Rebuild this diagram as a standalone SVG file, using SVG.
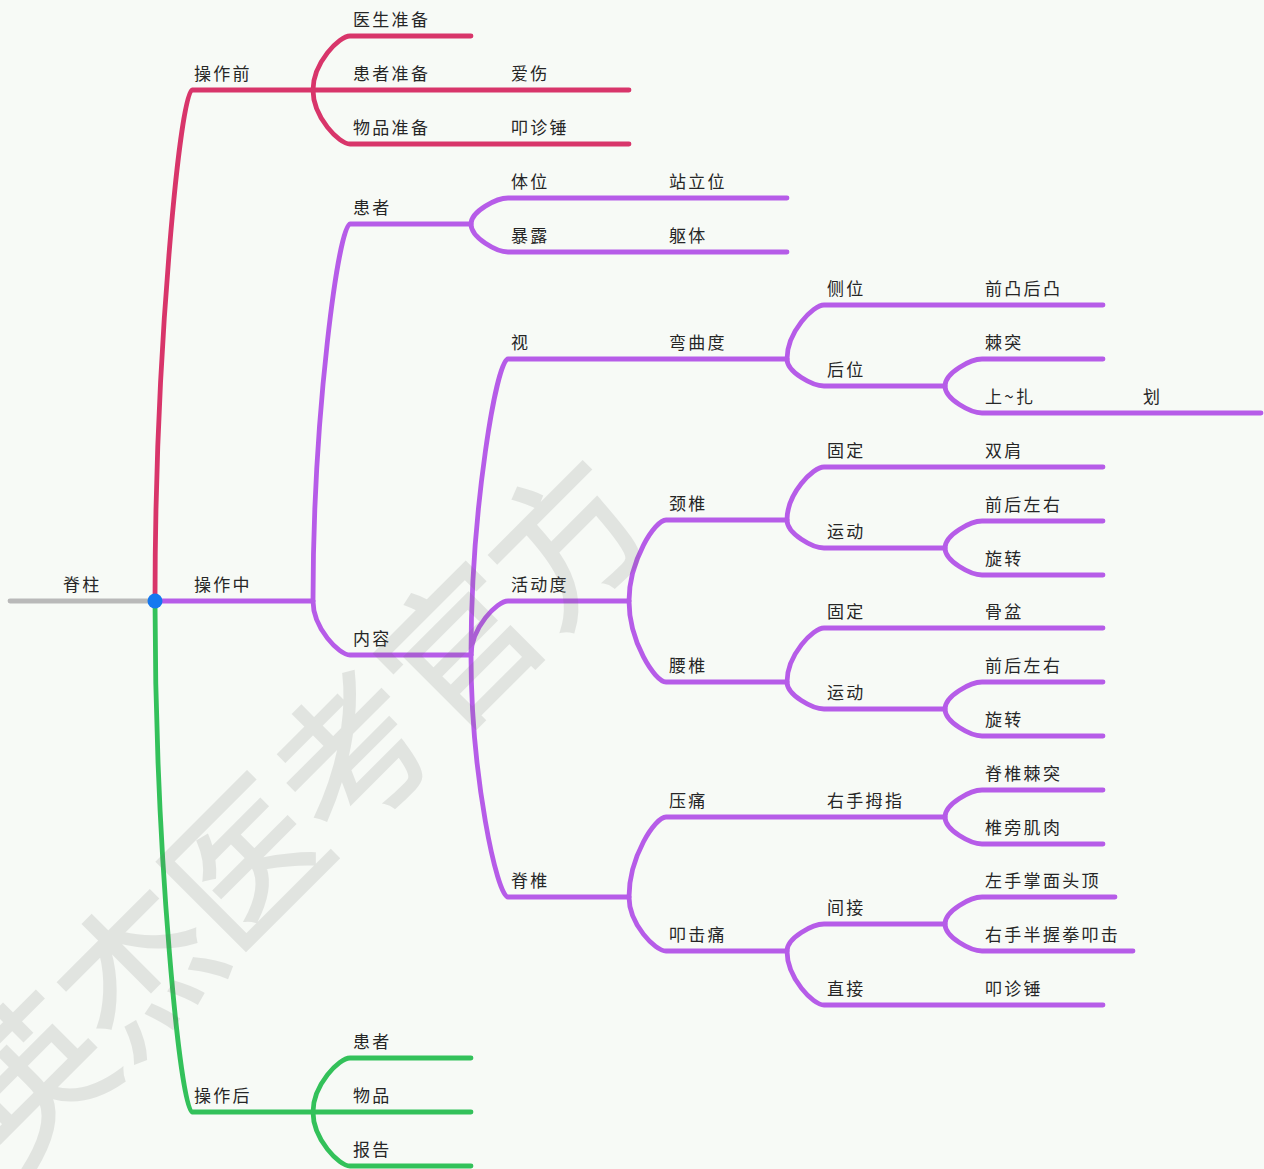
<svg xmlns="http://www.w3.org/2000/svg" width="1264" height="1169" viewBox="0 0 1264 1169">
<style>
.e{fill:none;stroke-width:4.8;stroke-linecap:round;stroke-linejoin:round}
.r{stroke:#d8356a}
.p{stroke:#b65ce8}
.g{stroke:#33c15a}
.k{stroke:#b9b9b9}
text{font-family:"Noto Sans CJK SC","Noto Sans",sans-serif;font-size:17px;letter-spacing:2.3px;fill:#262626}
.wm{font-size:152px;letter-spacing:0;fill:#6b6b6b;stroke:#6b6b6b;stroke-width:2.5}
</style>
<rect x="0" y="0" width="1264" height="1169" fill="#f7faf6"/>
<g id="connectors">
<path class="e k" d="M10 601 L155 601"/>
<path class="e r" d="M155 601 C155 345.5 181 90 192 90 L313 90"/>
<path class="e p" d="M155 601 L313 601"/>
<path class="e g" d="M155 601 C155 856.5 181 1112 192 1112 L313 1112"/>
<path class="e r" d="M313 90 C313 63 339 36 350 36 L471 36"/>
<path class="e r" d="M313 90 L629 90"/>
<path class="e r" d="M313 90 C313 117 339 144 350 144 L629 144"/>
<path class="e p" d="M313 601 C313 412.5 339 224 350 224 L471 224"/>
<path class="e p" d="M313 601 C313 628 339 655 350 655 L471 655"/>
<path class="e g" d="M313 1112 C313 1085 339 1058 350 1058 L471 1058"/>
<path class="e g" d="M313 1112 L471 1112"/>
<path class="e g" d="M313 1112 C313 1139 339 1166 350 1166 L471 1166"/>
<path class="e p" d="M471 224 C471 211 497 198 508 198 L787 198"/>
<path class="e p" d="M471 224 C471 238 497 252 508 252 L787 252"/>
<path class="e p" d="M471 655 C471 507 497 359 508 359 L787 359"/>
<path class="e p" d="M471 655 C471 628 497 601 508 601 L629 601"/>
<path class="e p" d="M471 655 C471 776 497 897 508 897 L629 897"/>
<path class="e p" d="M629 601 C629 560.5 655 520 666 520 L787 520"/>
<path class="e p" d="M629 601 C629 641.5 655 682 666 682 L787 682"/>
<path class="e p" d="M629 897 C629 857 655 817 666 817 L945 817"/>
<path class="e p" d="M629 897 C629 924 655 951 666 951 L787 951"/>
<path class="e p" d="M787 359 C787 332 813 305 824 305 L1103 305"/>
<path class="e p" d="M787 359 C787 372.5 813 386 824 386 L945 386"/>
<path class="e p" d="M787 520 C787 493.5 813 467 824 467 L1103 467"/>
<path class="e p" d="M787 520 C787 534 813 548 824 548 L945 548"/>
<path class="e p" d="M787 682 C787 655 813 628 824 628 L1103 628"/>
<path class="e p" d="M787 682 C787 695.5 813 709 824 709 L945 709"/>
<path class="e p" d="M787 951 C787 937.5 813 924 824 924 L945 924"/>
<path class="e p" d="M787 951 C787 978 813 1005 824 1005 L1103 1005"/>
<path class="e p" d="M945 386 C945 372.5 971 359 982 359 L1103 359"/>
<path class="e p" d="M945 386 C945 399.5 971 413 982 413 L1261 413"/>
<path class="e p" d="M945 548 C945 534.5 971 521 982 521 L1103 521"/>
<path class="e p" d="M945 548 C945 561.5 971 575 982 575 L1103 575"/>
<path class="e p" d="M945 709 C945 695.5 971 682 982 682 L1103 682"/>
<path class="e p" d="M945 709 C945 722.5 971 736 982 736 L1103 736"/>
<path class="e p" d="M945 817 C945 803.5 971 790 982 790 L1103 790"/>
<path class="e p" d="M945 817 C945 830.5 971 844 982 844 L1103 844"/>
<path class="e p" d="M945 924 C945 910.5 971 897 982 897 L1115 897"/>
<path class="e p" d="M945 924 C945 937.5 971 951 982 951 L1133 951"/>
<circle cx="155" cy="601" r="7.5" fill="#1478f0"/>
</g>
<g id="n-root"><text x="63" y="591">脊柱</text></g>
<g id="n-before"><text x="194" y="80">操作前</text></g>
<g id="n-during"><text x="194" y="591">操作中</text></g>
<g id="n-after"><text x="194" y="1102">操作后</text></g>
<g id="n-doctor"><text x="353" y="26">医生准备</text></g>
<g id="n-patientprep"><text x="353" y="80">患者准备</text></g>
<g id="n-itemprep"><text x="353" y="134">物品准备</text></g>
<g id="n-aishang"><text x="511" y="80">爱伤</text></g>
<g id="n-hammer1"><text x="511" y="134">叩诊锤</text></g>
<g id="n-patient"><text x="353" y="214">患者</text></g>
<g id="n-content"><text x="353" y="645">内容</text></g>
<g id="n-tiwei"><text x="511" y="188">体位</text></g>
<g id="n-zhanli"><text x="669" y="188">站立位</text></g>
<g id="n-baolu"><text x="511" y="242">暴露</text></g>
<g id="n-quti"><text x="669" y="242">躯体</text></g>
<g id="n-shi"><text x="511" y="349">视</text></g>
<g id="n-wanqu"><text x="669" y="349">弯曲度</text></g>
<g id="n-cewei"><text x="827" y="295">侧位</text></g>
<g id="n-qiantu"><text x="985" y="295">前凸后凸</text></g>
<g id="n-houwei"><text x="827" y="376">后位</text></g>
<g id="n-jitu"><text x="985" y="349">棘突</text></g>
<g id="n-shangzha"><text x="985" y="403">上~扎</text></g>
<g id="n-hua"><text x="1143" y="403">划</text></g>
<g id="n-huodong"><text x="511" y="591">活动度</text></g>
<g id="n-jingzhui"><text x="669" y="510">颈椎</text></g>
<g id="n-guding1"><text x="827" y="457">固定</text></g>
<g id="n-shuangjian"><text x="985" y="457">双肩</text></g>
<g id="n-yundong1"><text x="827" y="538">运动</text></g>
<g id="n-qhzy1"><text x="985" y="511">前后左右</text></g>
<g id="n-xuanzhuan1"><text x="985" y="565">旋转</text></g>
<g id="n-yaozhui"><text x="669" y="672">腰椎</text></g>
<g id="n-guding2"><text x="827" y="618">固定</text></g>
<g id="n-gupen"><text x="985" y="618">骨盆</text></g>
<g id="n-yundong2"><text x="827" y="699">运动</text></g>
<g id="n-qhzy2"><text x="985" y="672">前后左右</text></g>
<g id="n-xuanzhuan2"><text x="985" y="726">旋转</text></g>
<g id="n-jizhui"><text x="511" y="887">脊椎</text></g>
<g id="n-yatong"><text x="669" y="807">压痛</text></g>
<g id="n-youshou"><text x="827" y="807">右手拇指</text></g>
<g id="n-jizhuijitu"><text x="985" y="780">脊椎棘突</text></g>
<g id="n-zhuipang"><text x="985" y="834">椎旁肌肉</text></g>
<g id="n-kouji"><text x="669" y="941">叩击痛</text></g>
<g id="n-jianjie"><text x="827" y="914">间接</text></g>
<g id="n-zuoshou"><text x="985" y="887">左手掌面头顶</text></g>
<g id="n-banwo"><text x="985" y="941">右手半握拳叩击</text></g>
<g id="n-zhijie"><text x="827" y="995">直接</text></g>
<g id="n-hammer2"><text x="985" y="995">叩诊锤</text></g>
<g id="n-patient2"><text x="353" y="1048">患者</text></g>
<g id="n-item2"><text x="353" y="1102">物品</text></g>
<g id="n-report"><text x="353" y="1156">报告</text></g>
<g id="watermark" opacity="0.15"><text class="wm" transform="translate(300,810) rotate(-45)" x="0" y="55" text-anchor="middle">英杰医考官方</text></g>
</svg>
